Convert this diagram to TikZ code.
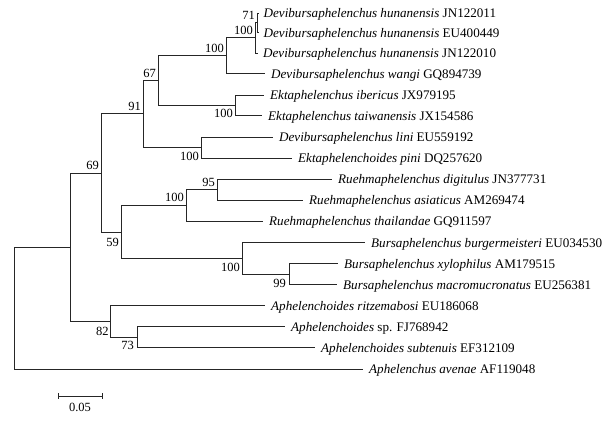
\documentclass[tikz,border=0pt]{standalone}
\usepackage{fontspec}
\setmainfont{Liberation Serif}
\begin{document}
\begin{tikzpicture}[x=1pt,y=-1pt,
  br/.style={draw=black!85, line width=0.9pt},
  taxon/.style={anchor=base west, inner sep=0pt, font=\fontsize{13.1}{15}\selectfont},
  bs/.style={anchor=east, inner sep=0pt, font=\fontsize{12.5}{14}\selectfont}]
\useasboundingbox (0,0) rectangle (612,421);
% internal nodes
\coordinate (R)     at (14,308);
\coordinate (N1)    at (70,247);
\coordinate (N69)   at (101,173);
\coordinate (N91)   at (143,113.5);
\coordinate (N67)   at (158,80.5);
\coordinate (N100a) at (226,55.5);
\coordinate (N100b) at (255,37.75);
\coordinate (N71)   at (257,22.5);
\coordinate (N100c) at (235,105.25);
\coordinate (N100d) at (201,147.5);
\coordinate (N59)   at (121,232);
\coordinate (N100e) at (186,205);
\coordinate (N95)   at (217,189.5);
\coordinate (N100f) at (242,258.5);
\coordinate (N99)   at (289,274);
\coordinate (N82)   at (110.7,321.5);
\coordinate (N73)   at (137,337);
% tips
\coordinate (t1)  at (258.5,13);
\coordinate (t2)  at (258.5,32.5);
\coordinate (t3)  at (258,53);
\coordinate (t4)  at (265,73.5);
\coordinate (t5)  at (264,95);
\coordinate (t6)  at (262,115.5);
\coordinate (t7)  at (273,137);
\coordinate (t8)  at (292,158);
\coordinate (t9)  at (332,179);
\coordinate (t10) at (303,200);
\coordinate (t11) at (263,221);
\coordinate (t12) at (365,242.5);
\coordinate (t13) at (338,263.5);
\coordinate (t14) at (337,284.5);
\coordinate (t15) at (265,305.5);
\coordinate (t16) at (285,326.5);
\coordinate (t17) at (315,347.5);
\coordinate (t18) at (363,369);
% branches
\draw[br] (R) |- (N1);   \draw[br] (R) |- (t18);
\draw[br] (N1) |- (N69); \draw[br] (N1) |- (N82);
\draw[br] (N69) |- (N91); \draw[br] (N69) |- (N59);
\draw[br] (N91) |- (N67); \draw[br] (N91) |- (N100d);
\draw[br] (N67) |- (N100a); \draw[br] (N67) |- (N100c);
\draw[br] (N100a) |- (N100b); \draw[br] (N100a) |- (t4);
\draw[br] (N100b) |- (N71); \draw[br] (N100b) |- (t3);
\draw[br] (N71) |- (t1); \draw[br] (N71) |- (t2);
\draw[br] (N100c) |- (t5); \draw[br] (N100c) |- (t6);
\draw[br] (N100d) |- (t7); \draw[br] (N100d) |- (t8);
\draw[br] (N59) |- (N100e); \draw[br] (N59) |- (N100f);
\draw[br] (N100e) |- (N95); \draw[br] (N100e) |- (t11);
\draw[br] (N95) |- (t9); \draw[br] (N95) |- (t10);
\draw[br] (N100f) |- (t12); \draw[br] (N100f) |- (N99);
\draw[br] (N99) |- (t13); \draw[br] (N99) |- (t14);
\draw[br] (N82) |- (t15); \draw[br] (N82) |- (N73);
\draw[br] (N73) |- (t16); \draw[br] (N73) |- (t17);
% taxa
\node[taxon] (l1)  at ([shift={(5,4.5)}]t1)  {\textit{Devibursaphelenchus hunanensis} JN122011};
\node[taxon] (l2)  at ([shift={(5,4.5)}]t2)  {\textit{Devibursaphelenchus hunanensis} EU400449};
\node[taxon] (l3)  at ([shift={(5,4.5)}]t3)  {\textit{Devibursaphelenchus hunanensis} JN122010};
\node[taxon] (l4)  at ([shift={(6,4.5)}]t4)  {\textit{Devibursaphelenchus wangi} GQ894739};
\node[taxon] (l5)  at ([shift={(6,4.5)}]t5)  {\textit{Ektaphelenchus ibericus} JX979195};
\node[taxon] (l6)  at ([shift={(6,4.5)}]t6)  {\textit{Ektaphelenchus taiwanensis} JX154586};
\node[taxon] (l7)  at ([shift={(6,4.5)}]t7)  {\textit{Devibursaphelenchus lini} EU559192};
\node[taxon] (l8)  at ([shift={(6,4.5)}]t8)  {\textit{Ektaphelenchoides pini} DQ257620};
\node[taxon] (l9)  at ([shift={(6,4.5)}]t9)  {\textit{Ruehmaphelenchus digitulus} JN377731};
\node[taxon] (l10) at ([shift={(6,4.5)}]t10) {\textit{Ruehmaphelenchus asiaticus} AM269474};
\node[taxon] (l11) at ([shift={(6,4.5)}]t11) {\textit{Ruehmaphelenchus thailandae} GQ911597};
\node[taxon] (l12) at ([shift={(6,4.5)}]t12) {\textit{Bursaphelenchus burgermeisteri} EU034530};
\node[taxon] (l13) at ([shift={(6,4.5)}]t13) {\textit{Bursaphelenchus xylophilus} AM179515};
\node[taxon] (l14) at ([shift={(6,4.5)}]t14) {\textit{Bursaphelenchus macromucronatus} EU256381};
\node[taxon] (l15) at ([shift={(6,4.5)}]t15) {\textit{Aphelenchoides ritzemabosi} EU186068};
\node[taxon] (l16) at ([shift={(6,4.5)}]t16) {\textit{Aphelenchoides} sp. FJ768942};
\node[taxon] (l17) at ([shift={(6,4.5)}]t17) {\textit{Aphelenchoides subtenuis} EF312109};
\node[taxon] (l18) at ([shift={(6,4.5)}]t18) {\textit{Aphelenchus avenae} AF119048};
% bootstrap values
\node[bs] (b71)   at ([shift={(-2,-7.5)}]N71)   {71};
\node[bs] (b100b) at ([shift={(-2,-7.5)}]N100b) {100};
\node[bs] (b100a) at ([shift={(-2,-7.5)}]N100a) {100};
\node[bs] (b67)   at ([shift={(-2,-7.5)}]N67)   {67};
\node[bs] (b91)   at ([shift={(-2,-7.5)}]N91)   {91};
\node[bs] (b100c) at ([shift={(-2,8.5)}]N100c)  {100};
\node[bs] (b100d) at ([shift={(-2,8.5)}]N100d)  {100};
\node[bs] (b69)   at ([shift={(-2,-7.5)}]N69)   {69};
\node[bs] (b95)   at ([shift={(-2,-7.5)}]N95)   {95};
\node[bs] (b100e) at ([shift={(-2,-7.5)}]N100e) {100};
\node[bs] (b59)   at ([shift={(-2,10.5)}]N59)   {59};
\node[bs] (b100f) at ([shift={(-2,8.5)}]N100f)  {100};
\node[bs] (b99)   at ([shift={(-3,9.5)}]N99)    {99};
\node[bs] (b82)   at ([shift={(-2,9.5)}]N82)    {82};
\node[bs] (b73)   at ([shift={(-3,8.5)}]N73)    {73};
% scale bar
\coordinate (s1) at (58,396);
\coordinate (s2) at (102,396);
\draw[br] (s1) -- (s2);
\draw[br] ([yshift=3pt]s1) -- ([yshift=-3pt]s1);
\draw[br] ([yshift=3pt]s2) -- ([yshift=-3pt]s2);
\node[inner sep=0pt, font=\fontsize{12.5}{14}\selectfont] (sl) at (80,407) {0.05};
\end{tikzpicture}
\end{document}
